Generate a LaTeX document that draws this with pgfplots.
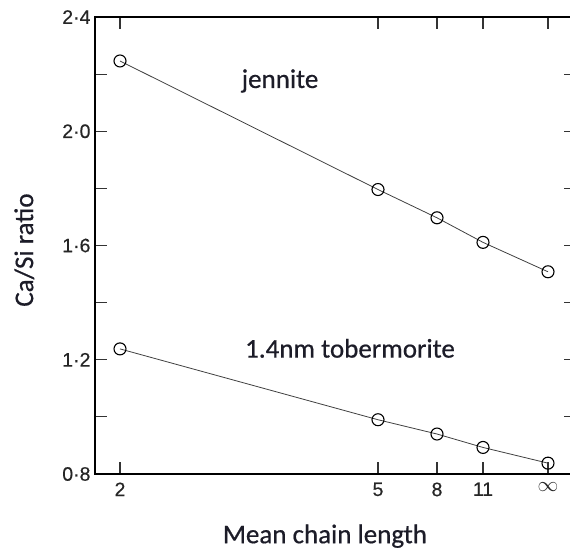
\documentclass[border=0pt]{standalone}
\usepackage{pgfplots}
\pgfplotsset{compat=1.18}
\usepackage{fontspec}
\setmainfont{Carlito}[FakeBold=0.6]
\newfontfamily\tickfont{Liberation Sans}[FakeBold=0.4]
\definecolor{labelink}{RGB}{28,28,40}
\newcommand\tl[1]{\mbox{\tickfont\fontsize{19.5}{22}\selectfont #1}}

% Ca/Si ratio against mean silicate chain length (abscissa spaced as in the
% original diagram: 2, 5, 8, 11, infinity)
\pgfplotstableread{
x     casi
0     2.246
258   1.796
317   1.697
363   1.611
428   1.508
}\jennite
\pgfplotstableread{
x     casi
0     1.238
258   0.990
317   0.940
363   0.893
428   0.838
}\tobermorite

\begin{document}
\begin{tikzpicture}[x=1pt,y=1pt]
\begin{axis}[
  at={(95pt,76pt)}, anchor=south west,
  scale only axis, width=481pt, height=457pt,
  xmin=-25, xmax=456, ymin=0.8, ymax=2.4,
  xtick={0,258,317,363,428},
  xticklabels={\tl{2},\tl{5},\tl{8},\tl{11},\tl{$\infty$}},
  ytick={0.8,1.0,1.2,1.4,1.6,1.8,2.0,2.2,2.4},
  yticklabels={\tl{0·8},,\tl{1·2},,\tl{1·6},,\tl{2·0},,\tl{2·4}},
  tick align=inside,
  major tick length=12pt,
  tick style={line width=1.1pt, black!80},
  axis line style={line width=2.2pt},
  ticklabel style={text=black!85},
  xticklabel style={yshift=-5pt},
  yticklabel style={xshift=-1pt},
  xlabel={Mean chain length},
  ylabel={Ca/Si ratio},
  label style={font=\fontsize{27}{30}\selectfont, text=labelink},
  xlabel style={at={(axis description cs:0.478,-0.136)}, anchor=center},
  ylabel style={at={(axis description cs:-0.147,0.49)}, anchor=center, rotate=0},
  clip=false,
]
\addplot[black!75, line width=0.8pt, mark=o,
  mark options={solid, fill=white, line width=1.1pt, black}, mark size=6pt]
  table[x=x, y=casi] {\jennite};
\addplot[black!75, line width=0.8pt, mark=o,
  mark options={solid, fill=white, line width=1.1pt, black}, mark size=6pt]
  table[x=x, y=casi] {\tobermorite};
\node[font=\fontsize{27}{30}\selectfont, text=labelink] at (axis cs:160,2.176) {jennite};
\node[font=\fontsize{27}{30}\selectfont, text=labelink] at (axis cs:230,1.24) {1.4nm tobermorite};
\end{axis}
\pgfresetboundingbox
\useasboundingbox (0,0) rectangle (570pt,550pt);
\end{tikzpicture}
\end{document}
